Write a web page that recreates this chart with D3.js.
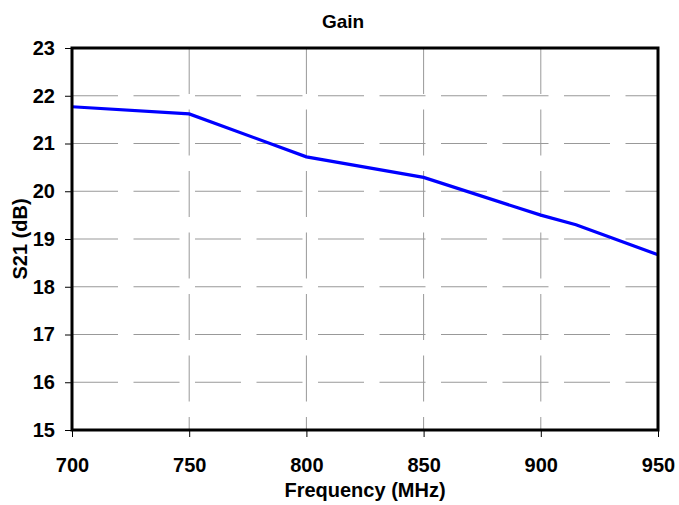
<!DOCTYPE html>
<html><head><meta charset="utf-8">
<script src="https://cdn.jsdelivr.net/npm/d3@7"></script>
<style>body{margin:0;background:#fff}svg{display:block}text{font-family:"Liberation Sans",Arial,sans-serif;font-weight:bold;fill:#000}</style>
</head><body>
<script>
const frequency = [700, 750, 800, 850, 900, 915, 950];
const s21 = [21.77, 21.62, 20.72, 20.29, 19.50, 19.30, 18.67];
const xTicks = [700, 750, 800, 850, 900, 950];
const yTicks = [15, 16, 17, 18, 19, 20, 21, 22, 23];

const W = 679, H = 505;
const m = {l: 72, r: 21, t: 48, b: 75};
const svg = d3.select("body").append("svg").attr("width", W).attr("height", H);
const x = d3.scaleLinear().domain([700, 950]).range([m.l, W - m.r]);
const y = d3.scaleLinear().domain([15, 23]).range([H - m.b, m.t]);

// grid
svg.append("g").selectAll("line").data(yTicks.slice(1, -1)).join("line")
  .attr("x1", m.l).attr("x2", W - m.r).attr("y1", d => y(d)).attr("y2", d => y(d))
  .attr("stroke", "#999").attr("stroke-width", 1).attr("stroke-dasharray", "46,15.5");
svg.append("g").selectAll("line").data(xTicks.slice(1, -1)).join("line")
  .attr("y1", m.t).attr("y2", H - m.b).attr("x1", d => x(d)).attr("x2", d => x(d))
  .attr("stroke", "#999").attr("stroke-width", 1).attr("stroke-dasharray", "46,15.5");

// line
svg.append("path").datum(frequency.map((f, i) => [f, s21[i]]))
  .attr("fill", "none").attr("stroke", "#0000ff").attr("stroke-width", 3.2)
  .attr("d", d3.line().x(d => x(d[0])).y(d => y(d[1])));

// axes
const xa = svg.append("g").attr("transform", `translate(0,${H - m.b})`)
  .call(d3.axisBottom(x).tickValues(xTicks).tickSize(7).tickPadding(21).tickFormat(d3.format("d")));
const ya = svg.append("g").attr("transform", `translate(${m.l},0)`)
  .call(d3.axisLeft(y).tickValues(yTicks).tickSize(7).tickPadding(10).tickFormat(d3.format("d")));
[xa, ya].forEach(a => {
  a.select(".domain").remove();
  a.selectAll("line").attr("stroke", "#000").attr("stroke-width", 1);
  a.selectAll("text").style("font-size", "20px").style("font-family", '"Liberation Sans",Arial,sans-serif').style("font-weight", "bold").attr("fill", "#000");
});

// frame
svg.append("rect").attr("x", m.l).attr("y", m.t).attr("width", W - m.r - m.l).attr("height", H - m.b - m.t)
  .attr("fill", "none").attr("stroke", "#000").attr("stroke-width", 3);

// titles
svg.append("text").attr("x", 343).attr("y", 28).attr("text-anchor", "middle").style("font-size", "19px").text("Gain");
svg.append("text").attr("x", (m.l + W - m.r) / 2).attr("y", 497).attr("text-anchor", "middle").style("font-size", "20px").text("Frequency (MHz)");
svg.append("text").attr("transform", `translate(27,${(m.t + H - m.b) / 2}) rotate(-90)`).attr("text-anchor", "middle").style("font-size", "20px").text("S21 (dB)");
</script>
</body></html>
